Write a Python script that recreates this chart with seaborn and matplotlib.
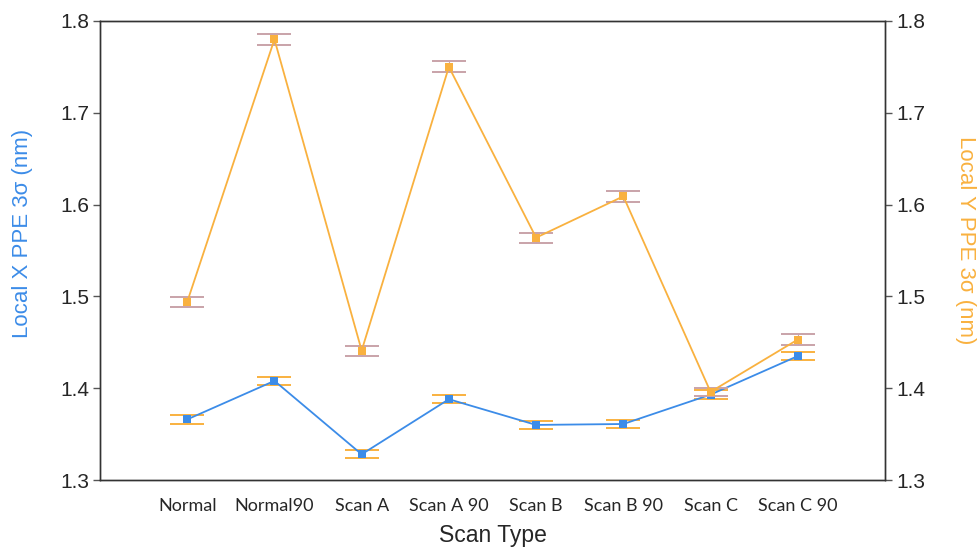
import matplotlib
matplotlib.use("Agg")
import matplotlib.pyplot as plt
import seaborn as sns
import pandas as pd

# Scan configurations and measured local placement error (3 sigma, nm)
scan_types = ["Normal", "Normal90", "Scan A", "Scan A 90", "Scan B", "Scan B 90", "Scan C", "Scan C 90"]
local_x = [1.366, 1.408, 1.328, 1.388, 1.360, 1.361, 1.393, 1.435]
local_x_err = [0.0045, 0.0045, 0.0045, 0.0045, 0.0045, 0.0045, 0.0045, 0.0045]
local_y = [1.494, 1.780, 1.441, 1.750, 1.564, 1.609, 1.396, 1.453]
local_y_err = [0.0055, 0.006, 0.0055, 0.006, 0.0055, 0.006, 0.004, 0.0055]
y_ticks = [1.3, 1.4, 1.5, 1.6, 1.7, 1.8]

BLUE = "#3c8ce8"
ORANGE = "#f9b13f"
MAUVE = "#c9a3a9"

sns.set_style("white")
plt.rcParams["font.family"] = ["Liberation Sans", "DejaVu Sans"]

df = pd.DataFrame({"scan": scan_types, "x": local_x, "y": local_y})

fig = plt.figure(figsize=(9.79, 5.48), dpi=100)
ax = fig.add_axes([100 / 979, 1 - 480 / 548, 785 / 979, 459 / 548])
ax2 = ax.twinx()

# Local X series on the left axis
ax.errorbar(range(len(scan_types)), local_x, yerr=local_x_err, fmt="none",
            ecolor=ORANGE, elinewidth=0.8, capsize=12.5, capthick=1.4, zorder=2)
sns.lineplot(data=df, x="scan", y="x", ax=ax, color=BLUE, lw=1.3,
             marker="s", markersize=6, markeredgewidth=0, sort=False, zorder=3)

# Local Y series on the right axis
ax2.errorbar(range(len(scan_types)), local_y, yerr=local_y_err, fmt="none",
             ecolor=MAUVE, elinewidth=0.8, capsize=12.5, capthick=1.4, zorder=2)
sns.lineplot(data=df, x="scan", y="y", ax=ax2, color=ORANGE, lw=1.3,
             marker="s", markersize=6, markeredgewidth=0, sort=False, zorder=3)

for a in (ax, ax2):
    a.set_ylim(1.3, 1.8)
    a.set_yticks(y_ticks)
    a.set_yticklabels([f"{t:.1f}" for t in y_ticks])
    for s in a.spines.values():
        s.set_color("#333333")
        s.set_linewidth(1.0)

ax.set_xlim(-1, 8)
ax.set_xticks(range(len(scan_types)))
ax.set_xticklabels(scan_types, fontsize=13, family=["Lato", "DejaVu Sans"])
ax.tick_params(axis="x", length=5, width=1, color="#555555", pad=8)
ax.tick_params(axis="y", length=5, width=1, color="#555555", labelsize=15, pad=3)
ax2.tick_params(axis="y", length=5, width=1, color="#555555", labelsize=15, pad=3)
ax2.set_xlabel("")

ax.set_xlabel("Scan Type", fontsize=16.5, labelpad=7)
ax.set_ylabel("Local X PPE 3σ (nm)", fontsize=16, color=BLUE, va="center", ha="center")
ax.yaxis.set_label_coords(-0.099, 0.538)
ax2.set_ylabel("Local Y PPE 3σ (nm)", fontsize=16, color=ORANGE, rotation=270, va="center", ha="center")
ax2.yaxis.set_label_coords(1.102, 0.523)

fig.savefig("out.png", dpi=100)
